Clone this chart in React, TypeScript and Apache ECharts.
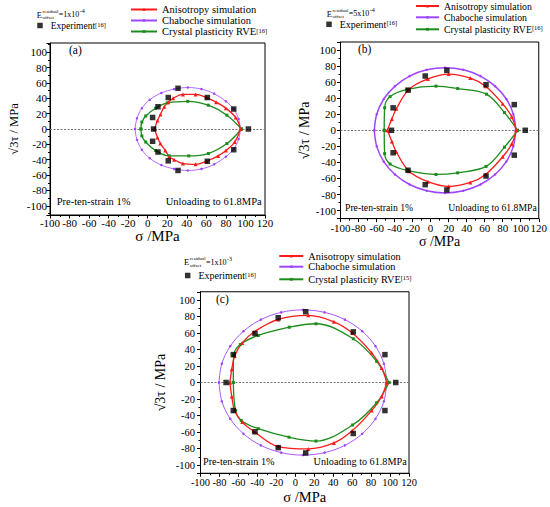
import React, { useEffect, useRef } from 'react';
import * as echarts from 'echarts';

// ---------------- data ----------------
const NAME_ANISO = 'Anisotropy simulation';
const NAME_CHAB = 'Chaboche simulation';
const NAME_CRYSTAL = 'Crystal plasticity RVE';
const NAME_EXP = 'Experiment';

const xMin = -100;
const xMax = 120;
const xStep = 20;

// (a) E = 1x10^-4
const aAnisoUpper = [[7, 0], [10, 11], [13, 19], [17, 29], [21, 35], [26, 40], [36, 45], [49, 45], [60, 41], [70, 35], [80, 27], [90, 15], [95, 0]];
const aAnisoLower = [[7, 0], [10, -11], [13, -19], [18, -28], [22, -36], [27, -40], [36, -45], [49, -46], [60, -42], [72, -35], [80, -28], [89, -17], [95, 0]];
const aChabUpper = [[-13, 0], [-11, 14], [-6, 27], [2, 38], [14, 47], [27, 52], [41, 54], [55, 52], [68, 46], [80, 36], [88, 26], [93, 13], [95, 0]];
const aChabLower = [[-13, 0], [-11, -14], [-6, -27], [2, -38], [14, -47], [27, -52], [41, -54], [55, -52], [68, -46], [80, -36], [88, -26], [93, -13], [95, 0]];
const aCrystalUpper = [[-7, 0], [-6, 9], [-2, 17], [8, 27], [20, 34], [41, 36], [62, 31], [81, 18], [96, 0]];
const aCrystalLower = [[-7, 0], [-6, -9], [-2, -17], [8, -28], [22, -35], [42, -35], [62, -32], [81, -19], [96, 0]];
const aExp = [[6, 0], [5, 15], [10.5, 29], [21, 41], [31, 53], [61, 41], [88, 26], [103, 0], [88, -27], [61, -42], [31, -54], [21, -41.5], [10.5, -30], [5, -16]];

// (b) E = 5x10^-4
const bAnisoUpper = [[-48, 0], [-43, 14], [-38, 27], [-24, 51], [-3, 64], [20, 70], [44, 65], [61, 55], [80, 33], [90, 17], [95, 0]];
const bAnisoLower = [[-48, 0], [-43, -14], [-38, -27], [-24, -51], [-3, -64], [20, -70], [44, -65], [61, -55], [80, -33], [90, -17], [95, 0]];
const bChabUpper = [[-62.5, 0], [-59.8, 20], [-52, 39], [-39.5, 55], [-23.3, 67.5], [-4.3, 75.3], [16, 78], [36.3, 75.3], [55.3, 67.5], [71.5, 55], [84, 39], [91.8, 20], [94.5, 0]];
const bChabLower = [[-62.5, 0], [-59.8, -20], [-52, -39], [-39.5, -55], [-23.3, -67.5], [-4.3, -75.3], [16, -78], [36.3, -75.3], [55.3, -67.5], [71.5, -55], [84, -39], [91.8, -20], [94.5, 0]];
const bCrystalUpper = [[-51.5, 0], [-51, 28], [-45, 42], [-26, 51], [6, 55], [30, 52], [62, 45], [82, 22], [96.5, 0]];
const bCrystalLower = [[-51.5, 0], [-51, -29], [-45, -42], [-26, -50], [6, -55], [30, -53], [61.5, -45], [82, -21], [96.5, 0]];
const bExp = [[-43.4, 0], [-41.6, 28], [-25, 50], [-6, 67.6], [18, 74.7], [61.5, 56.8], [92.8, 32], [105, 0], [92.8, -31], [61.5, -57], [18, -74.3], [-6, -67.7], [-25, -49.8], [-41.6, -28]];

// (c) E = 1x10^-3
const cAnisoUpper = [[-69, 0], [-67, 16], [-64, 32], [-56, 48], [-44, 61], [-18, 76.5], [13.7, 81.4], [40.8, 73.6], [60.2, 60], [80.6, 36], [91.2, 17.5], [96.4, 0]];
const cAnisoLower = [[-69, 0], [-67, -17], [-64, -34], [-56, -48], [-44, -59], [-18, -77.7], [13.7, -80.5], [40.8, -73.3], [60, -58.5], [80.6, -34], [91.2, -17], [96.4, 0]];
const cChabUpper = [[-80.5, 0], [-77.5, 22.8], [-68.6, 44], [-54.6, 62.2], [-36.3, 76.2], [-14.9, 85], [8, 88], [30.9, 85], [52.3, 76.2], [70.6, 62.2], [84.6, 44], [93.5, 22.8], [96.5, 0]];
const cChabLower = [[-80.5, 0], [-77.5, -22.8], [-68.6, -44], [-54.6, -62.2], [-36.3, -76.2], [-14.9, -85], [8, -88], [30.9, -85], [52.3, -76.2], [70.6, -62.2], [84.6, -44], [93.5, -22.8], [96.5, 0]];
const cCrystalUpper = [[-65.4, 0], [-65, 33], [-58, 46], [-39, 57], [-6.3, 67], [21.9, 71.2], [61.2, 53], [85.9, 25.6], [98.9, 0]];
const cCrystalLower = [[-65.4, 0], [-63, -34], [-57, -46], [-39, -56], [-6.6, -66.3], [21.8, -71], [60.5, -51.5], [85.9, -24.6], [98.9, 0]];
const cExp = [[-73, 0], [-65.4, 33.8], [-42.5, 59.4], [-18, 78.5], [11, 85.8], [61.2, 61.4], [94.6, 33.8], [106, 0], [94.6, -34], [61.2, -61.8], [11, -85.4], [-18, -79], [-42.5, -59.8], [-65.4, -34]];

const residualValues = ['=1x10', '=5x10', '=1x10'];
const residualExponents = ['-4', '-4', '-3'];
const crystalRefs = ['[16]', '[16]', '[15]'];
const expRefs = ['[16]', '[16]', '[16]'];
const panelLabels = ['(a)', '(b)', '(c)'];
const noteLeft = 'Pre-ten-strain 1%';
const noteRight = 'Unloading to 61.8MPa';

// ---------------- styling / layout ----------------
const FONT = 'Liberation Serif';
const RED = '#ff1a1a';
const PURPLE = '#a045ff';
const GREEN = '#1c8c1c';

const layouts = [
  {
    grid: { left: 50, top: 43, width: 215, height: 172 }, yMin: -112, yMax: 112,
    tickFont: 11, xLabelMargin: 2, yLabelMargin: 3, xNameFont: 15, xNameGap: 13, yNameFont: 12.5, yNameGap: 30,
    lineLeft: 130, iconW: 26, rows: [9, 20, 31], lineFont: 10.5,
    sq: [40, 25.5], expFont: 9.5, e: [36.7, 14.5],
    label: [69, 49.7], noteY: 201, noteL: 56.7, noteR: 261.7, noteFont: 10.5, chabW: 0.8, chabSym: 2.5,
  },
  {
    grid: { left: 340.5, top: 42, width: 199.5, height: 176.6 }, yMin: -110, yMax: 110,
    tickFont: 11, xLabelMargin: 3.5, yLabelMargin: 4.5, xNameFont: 14, xNameGap: 16, yNameFont: 14, yNameGap: 28,
    lineLeft: 415, iconW: 23, rows: [6, 17.3, 29.3], lineFont: 9.8,
    sq: [329, 24.3], expFont: 10, e: [326.7, 13.5],
    label: [358, 49], noteY: 207.7, noteL: 345, noteR: 536.7, noteFont: 9.7, chabW: 1.5, chabSym: 2.5,
  },
  {
    grid: { left: 200.5, top: 291.75, width: 208.5, height: 181.5 }, yMin: -110, yMax: 110,
    tickFont: 10.5, xLabelMargin: 4, yLabelMargin: 5.5, xNameFont: 14.5, xNameGap: 16, yNameFont: 14, yNameGap: 33,
    lineLeft: 278.3, iconW: 24, rows: [256, 266.7, 279.3], lineFont: 10.3,
    sq: [187.7, 275.5], expFont: 10, e: [184, 262.2],
    label: [216, 298.7], noteY: 461, noteL: 203, noteR: 406.7, noteFont: 10.2, chabW: 0.9, chabSym: 2.5,
  },
];

const panelData = [
  { anisoU: aAnisoUpper, anisoL: aAnisoLower, chabU: aChabUpper, chabL: aChabLower, crysU: aCrystalUpper, crysL: aCrystalLower, exp: aExp },
  { anisoU: bAnisoUpper, anisoL: bAnisoLower, chabU: bChabUpper, chabL: bChabLower, crysU: bCrystalUpper, crysL: bCrystalLower, exp: bExp },
  { anisoU: cAnisoUpper, anisoL: cAnisoLower, chabU: cChabUpper, chabL: cChabLower, crysU: cCrystalUpper, crysL: cCrystalLower, exp: cExp },
];

function txt(x: number, y: number, text: string, fontSize: number, align = 'left') {
  return {
    type: 'text', x, y, silent: true, z: 10,
    style: { text, fontSize, fontFamily: FONT, fill: '#000', align, verticalAlign: 'middle' },
  };
}

function buildOption() {
  const grids: any[] = [];
  const xAxes: any[] = [];
  const yAxes: any[] = [];
  const series: any[] = [];
  const legends: any[] = [];
  const graphics: any[] = [];

  layouts.forEach((L, i) => {
    const D = panelData[i];
    grids.push({ ...L.grid, show: true, borderColor: '#000', borderWidth: 1, backgroundColor: 'transparent' });
    xAxes.push({
      type: 'value', gridIndex: i, min: xMin, max: xMax, interval: xStep,
      name: 'σ /MPa', nameLocation: 'middle', nameGap: L.xNameGap,
      nameTextStyle: { fontFamily: FONT, fontSize: L.xNameFont, color: '#000' },
      axisLine: { show: true, onZero: false, lineStyle: { color: '#000', width: 1 } },
      axisTick: { show: true, inside: false, length: 3.5, lineStyle: { color: '#000' } },
      minorTick: { show: true, splitNumber: 2, length: 2, lineStyle: { color: '#000' } },
      axisLabel: { fontFamily: FONT, fontSize: L.tickFont, color: '#000', margin: L.xLabelMargin },
      splitLine: { show: false },
    });
    yAxes.push({
      type: 'value', gridIndex: i, min: L.yMin, max: L.yMax, splitNumber: 11, minInterval: 20, maxInterval: 20,
      name: '√3τ / MPa', nameLocation: 'middle', nameGap: L.yNameGap, nameRotate: 90,
      nameTextStyle: { fontFamily: FONT, fontSize: L.yNameFont, color: '#000' },
      axisLine: { show: true, onZero: false, lineStyle: { color: '#000', width: 1 } },
      axisTick: { show: true, inside: false, length: 3.5, lineStyle: { color: '#000' } },
      minorTick: { show: true, splitNumber: 2, length: 2, lineStyle: { color: '#000' } },
      axisLabel: {
        fontFamily: FONT, fontSize: L.tickFont, color: '#000', margin: L.yLabelMargin,
        showMinLabel: false, showMaxLabel: false,
        formatter: (v: number) => (Math.abs(v % 20) < 1e-6 ? String(v) : ''),
      },
      splitLine: { show: false },
    });

    const lineBase = (name: string, data: number[][], color: string, width: number, symbol: string, size: number) => ({
      type: 'line', name, xAxisIndex: i, yAxisIndex: i, data, smooth: 0.35,
      symbol, symbolSize: size, showSymbol: true,
      lineStyle: { color, width }, itemStyle: { color }, z: 3, silent: true,
    });
    series.push(lineBase(NAME_CHAB, D.chabU, PURPLE, L.chabW, 'circle', L.chabSym));
    series.push(lineBase(NAME_CHAB, D.chabL, PURPLE, L.chabW, 'circle', L.chabSym));
    series.push(lineBase(NAME_CRYSTAL, D.crysU, GREEN, 1.3, 'rect', 3));
    series.push(lineBase(NAME_CRYSTAL, D.crysL, GREEN, 1.3, 'rect', 3));
    series.push(lineBase(NAME_ANISO, D.anisoU, RED, 1.3, 'triangle', 4));
    series.push(lineBase(NAME_ANISO, D.anisoL, RED, 1.3, 'triangle', 4));
    series.push({
      type: 'scatter', name: NAME_EXP, xAxisIndex: i, yAxisIndex: i, data: D.exp,
      symbol: 'rect', symbolSize: 5.5, itemStyle: { color: '#000' }, z: 5, silent: true,
      markLine: {
        silent: true, symbol: 'none', label: { show: false },
        lineStyle: { type: [2, 1.5], color: '#777', width: 1 },
        data: [{ yAxis: 0 }], z: 1,
      },
    });

    // legends
    const names = [NAME_ANISO, NAME_CHAB, NAME_CRYSTAL];
    names.forEach((nm, k) => {
      legends.push({
        left: L.lineLeft, top: L.rows[k] - 5, padding: 0, orient: 'vertical',
        itemWidth: L.iconW, itemHeight: 3.5, selectedMode: false, data: [nm],
        formatter: (n: string) => (n === NAME_CRYSTAL ? `{n|${n}}{s|${crystalRefs[i]}}` : `{n|${n}}`),
        textStyle: {
          color: '#000', fontFamily: FONT, fontSize: L.lineFont, lineHeight: 10,
          rich: {
            n: { fontFamily: FONT, fontSize: L.lineFont, lineHeight: 10, color: '#000' },
            s: { fontFamily: FONT, fontSize: 6.5, lineHeight: 6, verticalAlign: 'top', color: '#000' },
          },
        },
      });
    });
    legends.push({
      left: L.sq[0] - 2.75, top: L.sq[1] - 5, padding: 0, orient: 'vertical',
      itemWidth: 5.5, itemHeight: 5.5, selectedMode: false, data: [NAME_EXP],
      formatter: (n: string) => `{n|${n}}{s|${expRefs[i]}}`,
      textStyle: {
        color: '#000', fontFamily: FONT, fontSize: L.expFont, lineHeight: 10,
        rich: {
          n: { fontFamily: FONT, fontSize: L.expFont, lineHeight: 10, color: '#000', padding: [0, 0, 0, 3] },
          s: { fontFamily: FONT, fontSize: 6.5, lineHeight: 6, verticalAlign: 'top', color: '#000' },
        },
      },
    });

    // E^residual_offset text
    const [ex, ey] = L.e;
    graphics.push(txt(ex, ey, 'E', 8.5));
    graphics.push(txt(ex + 5.8, ey - 3.4, 'residual', 5));
    graphics.push(txt(ex + 5.8, ey + 3, 'offset', 5));
    graphics.push(txt(ex + 22, ey, residualValues[i], 8));
    graphics.push(txt(ex + 43, ey - 3.3, residualExponents[i], 6));
    // panel label and notes
    graphics.push(txt(L.label[0], L.label[1], panelLabels[i], 11.5));
    graphics.push(txt(L.noteL, L.noteY, noteLeft, L.noteFont));
    graphics.push(txt(L.noteR, L.noteY, noteRight, L.noteFont, 'right'));
  });

  return {
    animation: false,
    backgroundColor: '#fff',
    grid: grids,
    xAxis: xAxes,
    yAxis: yAxes,
    legend: legends,
    series,
    graphic: graphics,
  };
}

export default function App() {
  const ref = useRef<HTMLDivElement>(null);
  useEffect(() => {
    if (!ref.current) return;
    const chart = echarts.init(ref.current, undefined, { renderer: 'svg' });
    chart.setOption(buildOption() as any);
    return () => chart.dispose();
  }, []);
  return (
    <div
      ref={ref}
      style={{ position: 'absolute', left: 0, top: 0, width: 550, height: 507, background: '#fff' }}
    />
  );
}
